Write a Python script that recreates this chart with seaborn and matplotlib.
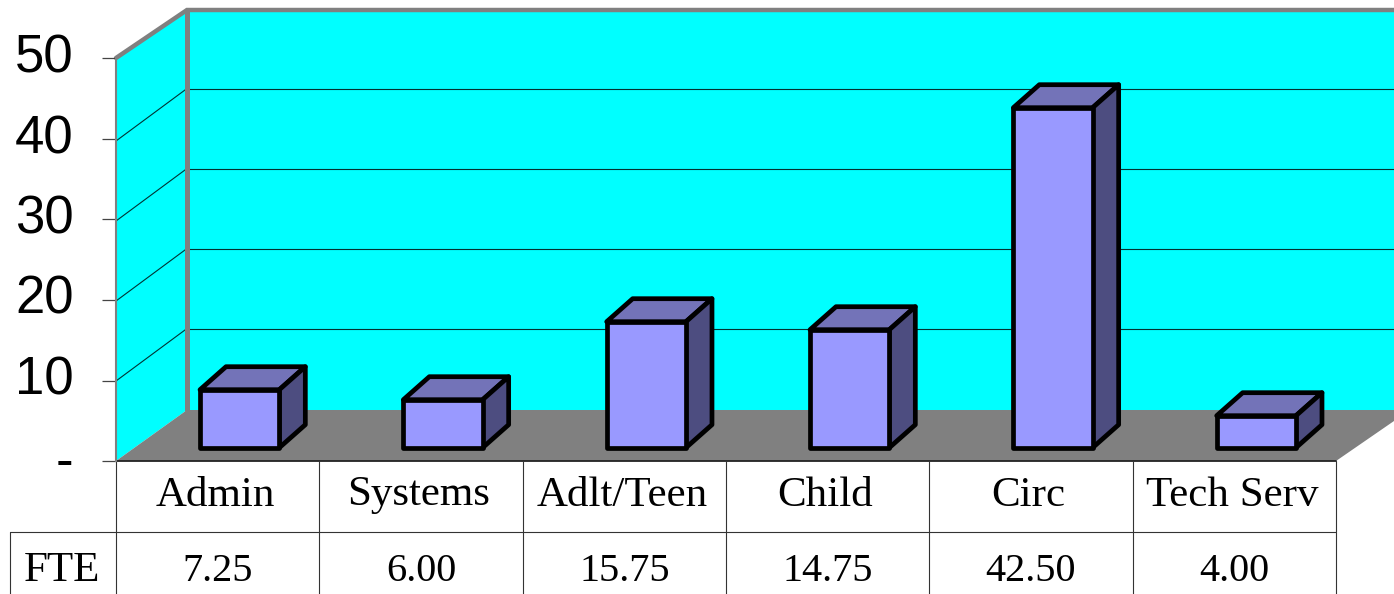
import matplotlib
matplotlib.use("Agg")
import matplotlib.pyplot as plt
from matplotlib.patches import Polygon
from matplotlib.transforms import ScaledTranslation
import seaborn as sns

# chart values
categories = ["Admin", "Systems", "Adlt/Teen", "Child", "Circ", "Tech Serv"]
fte = [7.25, 6.00, 15.75, 14.75, 42.50, 4.00]
y_ticks = [0, 10, 20, 30, 40, 50]
y_tick_labels = ["-", "10", "20", "30", "40", "50"]
row_label = "FTE"

W, H = 1394, 594
CYAN = "#00FFFF"
GRAY = "#808080"
FRONT = "#9999FF"
TOP = "#7373B8"
SIDE = "#4D4D80"
LINE = "#333333"

sns.set_theme(style="white")
plt.rcParams["font.family"] = ["Liberation Sans", "DejaVu Sans"]

fig = plt.figure(figsize=(W / 100, H / 100), dpi=100)


def px_axes(left, top, right, bottom):
    """Axes placed by pixel box of the picture."""
    return fig.add_axes([left / W, 1 - bottom / H, (right - left) / W, (bottom - top) / H])


# background walls, floor and the table, all in pixels
bg = px_axes(0, 0, W, H)
bg.set_xlim(0, W)
bg.set_ylim(H, 0)
bg.axis("off")

bg.add_patch(Polygon([(187, 10), (W, 10), (W, 410), (187, 410)], fc=CYAN, ec="none"))
bg.add_patch(Polygon([(116, 58), (187, 10), (187, 410), (116, 461)], fc=CYAN, ec="none"))
bg.add_patch(Polygon([(116, 461), (187, 410), (W, 410), (W, 421), (1336, 461)], fc=GRAY, ec="none"))

# grid on the back and left walls
for v in y_ticks[1:-1]:
    back_y = 408.5 - 8.0 * v
    front_y = 461 - 8.0 * v
    bg.plot([187, W], [back_y, back_y], color="#003333", lw=0.8)
    bg.plot([116, 187], [front_y, back_y], color="#003333", lw=0.8)

# wall frame
bg.plot([116, 187, W], [58, 10, 10], color=GRAY, lw=3.2, solid_joinstyle="miter")
bg.plot([187, 187], [10, 410], color=GRAY, lw=3.6)

# table
col_x = [116 + i * 203.33 for i in range(len(categories) + 1)]
bg.plot([116, 1336], [461, 461], color="#222222", lw=1.3)
bg.plot([10, 1336], [531.5, 531.5], color=LINE, lw=0.8)
for x in col_x:
    bg.plot([x, x], [461, H], color=LINE, lw=0.8)
bg.plot([10, 10], [531.5, H], color=LINE, lw=0.8)

for i, name in enumerate(categories):
    cx = (col_x[i] + col_x[i + 1]) / 2
    bg.text(cx - 2.5, 505.5, name, ha="center", va="baseline", fontsize=31, family="Liberation Serif", color="black")
    bg.text(cx, 581, f"{fte[i]:.2f}", ha="center", va="baseline", fontsize=29, family="Liberation Serif", color="black")
bg.text(62, 581, row_label, ha="center", va="baseline", fontsize=31, family="Liberation Serif", color="black")

# value axis on the front edge
ax_y = px_axes(116, 58.5, 130, 461)
ax_y.patch.set_visible(False)
ax_y.set_ylim(0, 50)
ax_y.set_xticks([])
ax_y.set_yticks(y_ticks)
ax_y.set_yticklabels(y_tick_labels, fontsize=38, color="black")
ax_y.tick_params(axis="y", left=True, length=10, width=0.9, color="#444444", pad=20.5)
for label in ax_y.get_yticklabels():
    label.set_va("center")
    if label.get_text() == "-":
        label.set_transform(label.get_transform() + ScaledTranslation(0, -2 / 100, fig.dpi_scale_trans))
for name in ["top", "right", "bottom"]:
    ax_y.spines[name].set_visible(False)
ax_y.spines["left"].set_color(GRAY)
ax_y.spines["left"].set_linewidth(1.5)

# bars
ax = px_axes(138, 0, 1358, 447.7)
ax.patch.set_visible(False)
sns.barplot(x=categories, y=fte, color=FRONT, saturation=1, width=0.39,
            edgecolor="black", linewidth=3.4, ax=ax, zorder=3)
ax.set_xlim(-0.5, 5.5)
ax.set_ylim(0, 447.7 / 8.0)
ax.axis("off")

# 3d look: depth in data units
dx = 26 / (1220 / 6)
dy = 23 / 8.0
for bar in ax.patches:
    bar.set_clip_on(False)
    bar.set_joinstyle("round")
    x0 = bar.get_x()
    x1 = x0 + bar.get_width()
    h = bar.get_height()
    ax.add_patch(Polygon([(x0, h), (x1, h), (x1 + dx, h + dy), (x0 + dx, h + dy)],
                         fc=TOP, ec="black", lw=3.4, joinstyle="round", zorder=2, clip_on=False))
    ax.add_patch(Polygon([(x1, 0), (x1 + dx, dy), (x1 + dx, h + dy), (x1, h)],
                         fc=SIDE, ec="black", lw=3.4, joinstyle="round", zorder=2, clip_on=False))

fig.savefig("out.png", dpi=100)
